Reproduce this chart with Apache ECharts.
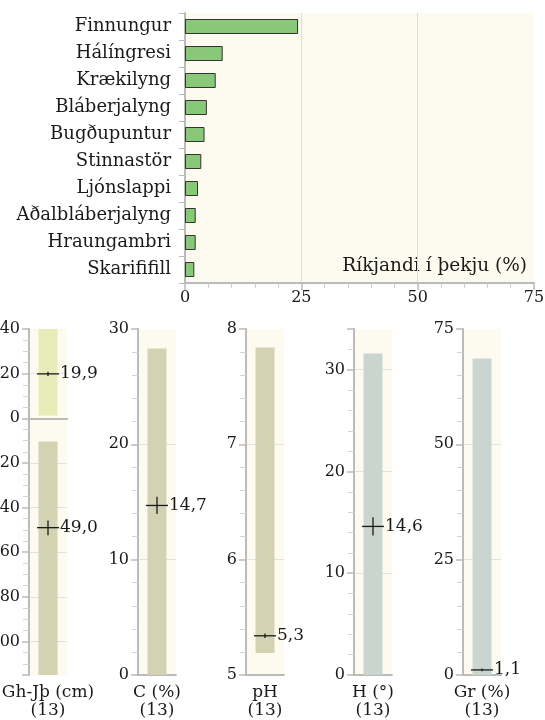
<!DOCTYPE html>
<html><head><meta charset="utf-8">
<script src="https://cdn.jsdelivr.net/npm/echarts@6/dist/echarts.min.js"></script>
<style>html,body{margin:0;padding:0;background:#fff}#c{width:545px;height:720px}</style>
</head><body><div id="c"></div>
<script>
// ---- data ----
const categories = ['Finnungur','Hálíngresi','Krækilyng','Bláberjalyng','Bugðupuntur','Stinnastör','Ljónslappi','Aðalbláberjalyng','Hraungambri','Skarififill'];
const coverValues = [24.3, 8.1, 6.6, 4.7, 4.2, 3.5, 2.8, 2.3, 2.3, 2.0];
const coverTicks = [0, 25, 50, 75];
const coverTitle = 'Ríkjandi í þekju (%)';

const panelNames = ['Gh-Jþ (cm)', 'C (%)', 'pH', 'H (°)', 'Gr (%)'];
const panelCounts = [13, 13, 13, 13, 13];
const panelMin = [-115, 0, 5, 0, 0];
const panelMax = [40, 30, 8, 34, 75];
const panelInterval = [20, 10, 1, 10, 25];
// ranges [low, high] per panel (Gh-Jþ has two: above and below the zero line)
const rangeGhAbove = [1.2, 40];
const rangeGhBelow = [-115, -10.4];
const rangeC = [0, 28.3];
const rangePH = [5.19, 7.84];
const rangeH = [0, 31.6];
const rangeGr = [0, 68.6];
// means with [low, high] error extent
const meanGhAbove = [19.9, 18.9, 20.9];
const meanGhBelow = [-49.0, -52.4, -45.8];
const meanC = [14.7, 13.95, 15.45];
const meanPH = [5.34, 5.32, 5.36];
const meanH = [14.6, 13.7, 15.5];
const meanGr = [1.1, 0.8, 1.4];

// ---- styling ----
const FONT = 'DejaVu Serif';
const TXT = '#1a1a1a';
const AX = '#bbbbbb';
const BG = '#fdfaf0';

const chart = echarts.init(document.getElementById('c'), null, {renderer: 'canvas'});

const grids = [{left: 185, right: 11, top: 13, height: 270, show: true, backgroundColor: BG, borderWidth: 0, outerBoundsMode: 'none', containLabel: false}];
const panelLeft = [29, 138, 246, 354, 463];
for (let i = 0; i < 5; i++) {
  grids.push({left: panelLeft[i], width: 38, top: 329, height: 346, show: true, backgroundColor: BG, borderWidth: 0, outerBoundsMode: 'none', containLabel: false});
}

const xAxes = [{
  type: 'value', gridIndex: 0, min: coverTicks[0], max: coverTicks[coverTicks.length - 1], interval: 25,
  axisLine: {show: true, lineStyle: {color: AX, width: 2}},
  axisTick: {show: true, length: 7, lineStyle: {color: AX, width: 1.5}},
  minorTick: {show: true, splitNumber: 5, length: 5, lineStyle: {color: '#cccccc', width: 1}},
  splitLine: {show: true, showMinLine: false, showMaxLine: false, lineStyle: {color: '#dddddd', width: 1}},
  axisLabel: {fontFamily: FONT, fontSize: 16, color: TXT, margin: 7}
}];
const yAxes = [{
  type: 'category', gridIndex: 0, data: categories, inverse: true,
  axisLine: {show: true, lineStyle: {color: AX, width: 2}},
  axisTick: {show: true, length: 6, lineStyle: {color: AX, width: 1}},
  axisLabel: {fontFamily: FONT, fontSize: 18, color: TXT, margin: 14}
}];

for (let i = 0; i < 5; i++) {
  xAxes.push({
    type: 'category', gridIndex: i + 1, data: [panelNames[i] + '\n(' + panelCounts[i] + ')'],
    axisLine: {show: true, lineStyle: {color: AX, width: 2}},
    axisTick: {show: false},
    axisLabel: {fontFamily: FONT, fontSize: 17, color: TXT, margin: 9, lineHeight: 18}
  });
  const y = {
    type: 'value', gridIndex: i + 1, min: panelMin[i], max: panelMax[i],
    axisLine: {show: true, lineStyle: {color: AX, width: 2}},
    axisTick: {show: true, length: 7, lineStyle: {color: AX, width: 1.5}},
    minorTick: {show: true, splitNumber: 5, length: 6, lineStyle: {color: '#d4d4d4', width: 1}},
    splitLine: {show: true, showMinLine: false, showMaxLine: false, lineStyle: {color: '#e2e2e2', width: 1}},
    axisLabel: {fontFamily: FONT, fontSize: 16, color: TXT, margin: 9}
  };
  if (i === 0) {
    y.splitNumber = 8;
    y.minorTick.splitNumber = 4;
    y.axisLabel.showMinLabel = false;
    y.axisLabel.formatter = v => String(Math.abs(v));
  } else {
    y.interval = panelInterval[i];
  }
  if (i === 3) y.axisLabel.showMaxLabel = false;
  yAxes.push(y);
}

function rangeSeries(idx, ranges, color) {
  return {
    type: 'custom', xAxisIndex: idx, yAxisIndex: idx,
    data: ranges.map(r => [0, r[0], r[1]]),
    renderItem: (params, api) => {
      const p0 = api.coord([0, api.value(1)]);
      const p1 = api.coord([0, api.value(2)]);
      const w = api.size([1, 0])[0] * 0.5;
      return {type: 'rect', shape: {x: p0[0] - w / 2, y: p1[1], width: w, height: p0[1] - p1[1]},
        style: {fill: color}};
    },
    silent: true, z: 2
  };
}
function meanSeries(idx, means) {
  return {
    type: 'custom', xAxisIndex: idx, yAxisIndex: idx,
    data: means.map(m => [0, m[0], m[1], m[2]]),
    renderItem: (params, api) => {
      const c = api.coord([0, api.value(1)]);
      const lo = api.coord([0, api.value(2)]);
      const hi = api.coord([0, api.value(3)]);
      const half = 11;
      const txt = Math.abs(api.value(1)).toFixed(1).replace('.', ',');
      return {type: 'group', children: [
        {type: 'line', shape: {x1: c[0] - half, y1: c[1], x2: c[0] + half, y2: c[1]}, style: {stroke: TXT, lineWidth: 1.3}},
        {type: 'line', shape: {x1: c[0], y1: lo[1], x2: c[0], y2: hi[1]}, style: {stroke: TXT, lineWidth: 1.3}},
        {type: 'text', x: c[0] + half + 1, y: c[1], style: {text: txt, fill: TXT, font: '17px "' + FONT + '"', textAlign: 'left', textVerticalAlign: 'middle'}}
      ]};
    },
    silent: true, z: 5
  };
}

const series = [
  {
    type: 'bar', xAxisIndex: 0, yAxisIndex: 0, data: coverValues, barWidth: 15,
    itemStyle: {color: '#88c878', borderColor: '#333', borderWidth: 1}, silent: true
  },
  rangeSeries(1, [rangeGhAbove], '#e6edb8'),
  rangeSeries(1, [rangeGhBelow], '#d3d3b3'),
  meanSeries(1, [meanGhAbove, meanGhBelow]),
  {
    type: 'custom', xAxisIndex: 1, yAxisIndex: 1, data: [], renderItem: () => null,
    markLine: {silent: true, symbol: 'none', label: {show: false}, lineStyle: {color: AX, width: 2, type: 'solid'}, data: [{yAxis: 0}]}
  },
  rangeSeries(2, [rangeC], '#d3d3b3'),
  meanSeries(2, [meanC]),
  rangeSeries(3, [rangePH], '#d3d3b3'),
  meanSeries(3, [meanPH]),
  rangeSeries(4, [rangeH], '#cbd5d0'),
  meanSeries(4, [meanH]),
  rangeSeries(5, [rangeGr], '#cbd5d0'),
  meanSeries(5, [meanGr])
];

chart.setOption({
  animation: false,
  grid: grids,
  xAxis: xAxes,
  yAxis: yAxes,
  series: series,
  graphic: [{
    type: 'text', right: 18, top: 257,
    style: {text: coverTitle, fill: TXT, font: '18.5px "' + FONT + '"'}
  }]
});
</script>
</body></html>
